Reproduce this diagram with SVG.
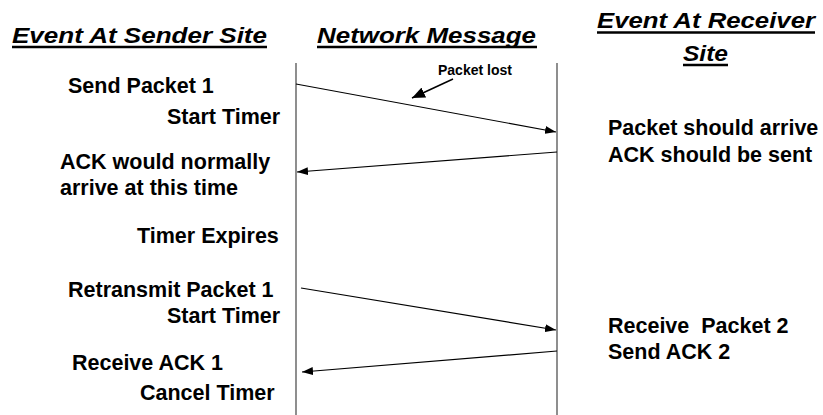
<svg xmlns="http://www.w3.org/2000/svg" width="823" height="415" viewBox="0 0 823 415">
  <style>
    .hd { font-family: "Liberation Sans", Arial, sans-serif; font-weight: bold; font-style: italic; font-size: 22px; fill: #000; }
    .tx { font-family: "Liberation Sans", Arial, sans-serif; font-weight: bold; font-size: 21.5px; fill: #000; }
    .sm { font-family: "Liberation Sans", Arial, sans-serif; font-weight: bold; font-size: 14px; fill: #000; }
    .ul { stroke: #000; stroke-width: 2.5; }
    .life { stroke: #444; stroke-width: 1.2; fill: none; }
    .msg { stroke: #000; stroke-width: 1.2; fill: none; marker-end: url(#ah); }
    .ptr { stroke: #000; stroke-width: 1.5; fill: none; marker-end: url(#ahBig); }
  </style>
  <defs>
    <marker id="ah" markerUnits="userSpaceOnUse" markerWidth="12" markerHeight="8" refX="11" refY="4" orient="auto">
      <path d="M0,0 L11,4 L0,8 z" fill="#000"/>
    </marker>
    <marker id="ahBig" markerUnits="userSpaceOnUse" markerWidth="14" markerHeight="11" refX="13" refY="5.5" orient="auto">
      <path d="M0,0 L13,5.5 L0,11 z" fill="#000"/>
    </marker>
  </defs>
  <rect width="823" height="415" fill="#fff"/>

  <g id="headings">
    <g id="h-sender">
      <text class="hd" x="12" y="43" textLength="255" lengthAdjust="spacingAndGlyphs">Event At Sender Site</text>
      <line class="ul" x1="12" y1="47" x2="267" y2="47"/>
    </g>
    <g id="h-network">
      <text class="hd" x="317" y="43" textLength="219" lengthAdjust="spacingAndGlyphs">Network Message</text>
      <line class="ul" x1="317" y1="47" x2="537" y2="47"/>
    </g>
    <g id="h-receiver">
      <text class="hd" x="597" y="28" textLength="218" lengthAdjust="spacingAndGlyphs">Event At Receiver</text>
      <line class="ul" x1="597" y1="32.5" x2="815" y2="32.5"/>
      <text class="hd" x="683" y="61" textLength="45" lengthAdjust="spacingAndGlyphs">Site</text>
      <line class="ul" x1="683" y1="65" x2="728" y2="65"/>
    </g>
  </g>

  <g id="lifelines">
    <line id="sender-line" class="life" x1="296" y1="63" x2="296" y2="415"/>
    <line id="receiver-line" class="life" x1="557" y1="63" x2="557" y2="415"/>
  </g>

  <g id="sender-events">
    <text class="tx" x="68" y="93">Send Packet 1</text>
    <text class="tx" x="167" y="124">Start Timer</text>
    <text class="tx" x="60" y="169">ACK would normally</text>
    <text class="tx" x="60" y="195">arrive at this time</text>
    <text class="tx" x="137" y="243">Timer Expires</text>
    <text class="tx" x="68" y="297">Retransmit Packet 1</text>
    <text class="tx" x="167" y="323">Start Timer</text>
    <text class="tx" x="72" y="370">Receive ACK 1</text>
    <text class="tx" x="140" y="400">Cancel Timer</text>
  </g>

  <g id="receiver-events">
    <text class="tx" x="608" y="135">Packet should arrive</text>
    <text class="tx" x="608" y="162">ACK should be sent</text>
    <text class="tx" x="608" y="333" xml:space="preserve">Receive  Packet 2</text>
    <text class="tx" x="608" y="359">Send ACK 2</text>
  </g>

  <g id="connectors">
    <line class="msg" x1="296" y1="84" x2="556" y2="132"/>
    <line class="msg" x1="557" y1="152" x2="297" y2="172"/>
    <line class="msg" x1="301" y1="288" x2="556" y2="330"/>
    <line class="msg" x1="557" y1="351" x2="302" y2="372"/>
    <line class="ptr" x1="453" y1="79" x2="412" y2="98"/>
  </g>

  <g id="label-packet-lost">
    <text class="sm" x="438" y="75">Packet lost</text>
  </g>
</svg>
